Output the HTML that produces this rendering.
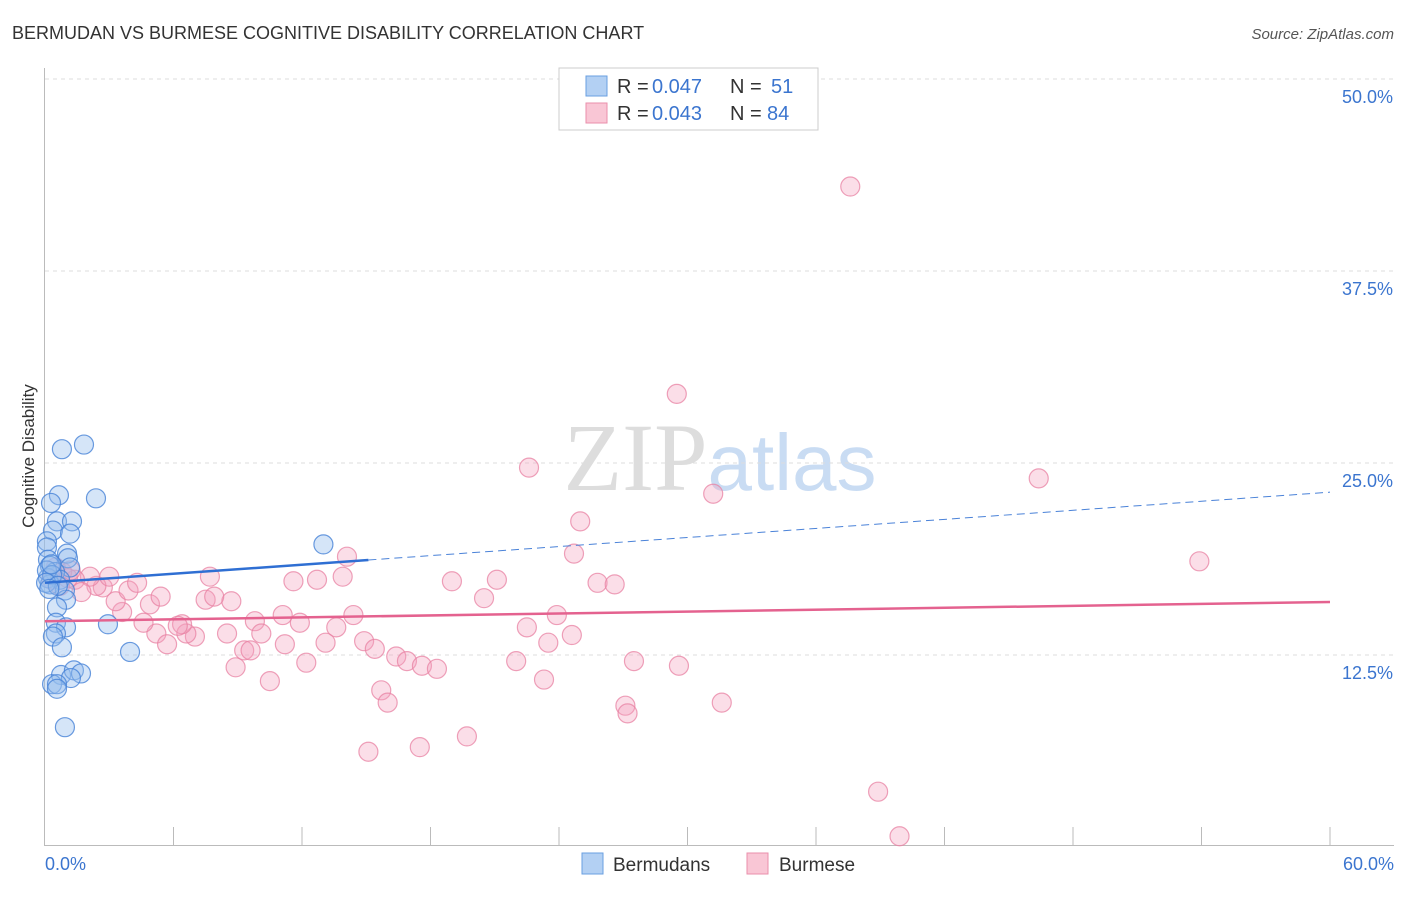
<!DOCTYPE html>
<html><head><meta charset="utf-8"><style>
body{margin:0;background:#fff;font-family:"Liberation Sans",sans-serif}
</style></head><body>
<svg id="chart" width="1406" height="892" viewBox="0 0 1406 892" xmlns="http://www.w3.org/2000/svg" font-family="Liberation Sans, sans-serif">
<text x="12" y="39" font-size="18" fill="#333">BERMUDAN VS BURMESE COGNITIVE DISABILITY CORRELATION CHART</text>
<text x="1394" y="39" font-size="15" fill="#555" text-anchor="end" font-style="italic">Source: ZipAtlas.com</text>
<text x="720" y="490" font-size="96" text-anchor="middle"><tspan fill="#ddd" font-family="Liberation Serif, serif">ZIP</tspan><tspan fill="#c9dcf3" font-size="80">atlas</tspan></text>
<text transform="translate(34,456) rotate(-90)" font-size="17" fill="#333" text-anchor="middle">Cognitive Disability</text>
<g id="grid"></g><g id="axes"></g><g id="pts"></g><g id="lines"></g>
<g>
<rect x="559" y="68" width="259" height="62" fill="#fff" stroke="#ccc"/>
<rect x="586" y="76" width="21" height="20" fill="#b3d0f3" stroke="#6a9fe0"/>
<rect x="586" y="103" width="21" height="20" fill="#f9c6d5" stroke="#ea8fab"/>
<text x="617" y="93" font-size="20" fill="#333">R =</text>
<text x="652" y="93" font-size="20" fill="#3b75cf">0.047</text>
<text x="730" y="93" font-size="20" fill="#333">N =</text>
<text x="771" y="93" font-size="20" fill="#3b75cf">51</text>
<text x="617" y="120" font-size="20" fill="#333">R =</text>
<text x="652" y="120" font-size="20" fill="#3b75cf">0.043</text>
<text x="730" y="120" font-size="20" fill="#333">N =</text>
<text x="767" y="120" font-size="20" fill="#3b75cf">84</text>
</g>
<g>
<rect x="582" y="853" width="21" height="21" fill="#b3d0f3" stroke="#6a9fe0"/>
<text x="613" y="871" font-size="19" fill="#333">Bermudans</text>
<rect x="747" y="853" width="21" height="21" fill="#f9c6d5" stroke="#ea8fab"/>
<text x="779" y="871" font-size="19" fill="#333">Burmese</text>
</g>
</svg>
<script>
const yTicks=[12.5,25,37.5,50];
const yTickLabels=["12.5%","25.0%","37.5%","50.0%"];
const xLabels=["0.0%","60.0%"];
const blueX=[0.79,1.82,0.65,2.38,0.28,0.56,1.26,0.37,1.17,0.09,0.09,1.03,1.07,0.14,0.23,1.17,0.47,0.14,0.70,0.23,0.93,0.98,0.56,13.0,2.94,0.51,0.98,0.51,0.37,0.79,3.97,0.75,1.35,1.68,1.21,0.33,0.56,0.56,0.93,0.09,0.33,0.05,0.3,0.6,0.2];
const blueY=[25.9,26.2,22.9,22.7,22.4,21.2,21.2,20.6,20.4,19.9,19.5,19.1,18.8,18.7,18.3,18.2,17.9,17.5,17.4,17.1,16.7,16.1,15.6,19.7,14.5,14.6,14.3,13.9,13.7,13.0,12.7,11.2,11.5,11.3,11.0,10.6,10.6,10.3,7.8,18.0,17.7,17.2,18.4,17.0,16.8];
const pinkX=[37.6,29.5,22.6,31.2,46.4,24.99,24.7,53.9,14.1,7.7,11.6,12.7,13.9,19.0,21.1,25.8,26.6,20.5,23.9,14.4,11.1,9.8,11.9,22.5,13.6,24.6,23.5,13.1,14.9,15.4,16.4,16.9,17.6,18.3,22.0,27.5,29.6,12.2,8.9,10.5,23.3,15.7,16.0,27.1,27.2,31.6,19.7,17.5,15.1,38.9,39.9,8.5,9.3,9.6,10.1,11.2,7.0,6.6,6.4,6.2,5.2,5.7,4.6,3.6,3.3,4.9,8.7,7.5,7.9,5.4,3.9,4.3,2.7,2.4,3.0,2.1,1.4,1.7,0.8,0.5,0.3,1.07,0.7,1.2];
const pinkY=[43.0,29.5,24.7,23.0,24.0,21.2,19.1,18.6,18.9,17.6,17.3,17.4,17.6,17.3,17.4,17.2,17.1,16.2,15.1,15.1,15.1,14.7,14.6,14.3,14.3,13.8,13.3,13.3,13.4,12.9,12.4,12.1,11.8,11.6,12.1,12.1,11.8,12.0,11.7,10.8,10.9,10.2,9.4,9.2,8.7,9.4,7.2,6.5,6.2,3.6,0.7,13.9,12.8,12.8,13.9,13.2,13.7,13.9,14.5,14.4,13.9,13.2,14.6,15.3,16.0,15.8,16.0,16.1,16.3,16.3,16.7,17.2,16.9,17.0,17.6,17.6,17.4,16.6,17.9,18.2,17.4,17.5,17.0,18.0];
const blueFit=[17.2,23.1], blueSolidEnd=15.1;
const pinkFit=[14.7,15.95];
const NS="http://www.w3.org/2000/svg";
const X=v=>45+v/60*1285, Y=v=>847-v/12.5*192;
function mk(t,a,p){const e=document.createElementNS(NS,t);for(const k in a)e.setAttribute(k,a[k]);document.getElementById(p).appendChild(e);return e;}
yTicks.forEach((t,i)=>{
 const g=mk('line',{x1:45,x2:1394,y1:Y(t),y2:Y(t),stroke:'#ddd','stroke-dasharray':'4,4'},'grid');
 
 
 const l=mk('text',{x:1393,y:Y(t)+24,'font-size':18,fill:'#3b75cf','text-anchor':'end'},'grid');
 l.textContent=yTickLabels[i];
 
 
});
const topLine=mk('line',{x1:45,x2:1394,y1:79,y2:79,stroke:'#ddd','stroke-dasharray':'4,4'},'grid');


const ya=mk('line',{x1:44.5,x2:44.5,y1:68,y2:846,stroke:'#bbb'},'axes');


const xa=mk('line',{x1:44,x2:1394,y1:845.5,y2:845.5,stroke:'#bbb'},'axes');


for(let i=1;i<=10;i++){const t=mk('line',{x1:X(i*6),x2:X(i*6),y1:827,y2:845,stroke:'#bbb'},'axes');
 
 }
[[0,45,'start'],[60,1394,'end']].forEach((a,i)=>{const t=mk('text',{x:a[1],y:870,'font-size':18,fill:'#3b75cf','text-anchor':a[2]},'axes');t.textContent=xLabels[i];
 
 });
pinkX.forEach((x,i)=>{const c=mk('circle',{cx:X(x),cy:Y(pinkY[i]),r:9.5,fill:'rgba(244,160,188,0.35)',stroke:'rgba(232,130,163,0.75)','stroke-width':1.2},'pts');
 
 });
blueX.forEach((x,i)=>{const c=mk('circle',{cx:X(x),cy:Y(blueY[i]),r:9.5,fill:'rgba(150,190,238,0.4)',stroke:'rgba(70,130,215,0.8)','stroke-width':1.2},'pts');
 
 });
const bAt=v=>blueFit[0]+(blueFit[1]-blueFit[0])*v/60;
const b1=mk('line',{x1:X(0),y1:Y(blueFit[0]),x2:X(blueSolidEnd),y2:Y(bAt(blueSolidEnd)),stroke:'#2f6fd3','stroke-width':2.5},'lines');


const b2=mk('line',{x1:X(blueSolidEnd),y1:Y(bAt(blueSolidEnd)),x2:X(60),y2:Y(blueFit[1]),stroke:'#4a82d8','stroke-width':1,'stroke-dasharray':'8,5'},'lines');


const p1=mk('line',{x1:X(0),y1:Y(pinkFit[0]),x2:X(60),y2:Y(pinkFit[1]),stroke:'#e4628f','stroke-width':2.5},'lines');


</script>
</body></html>
